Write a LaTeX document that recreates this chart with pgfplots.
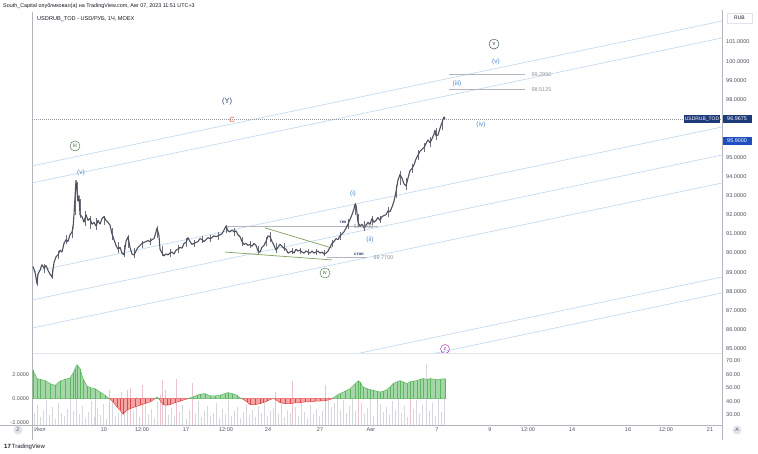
\documentclass[border=0pt]{standalone}
\usepackage{pgfplots}
\pgfplotsset{compat=1.18}
\usepackage{fontspec}
\setmainfont{Liberation Sans}
\definecolor{candle}{HTML}{4E515C}
\definecolor{chan}{HTML}{BCD6EF}
\definecolor{wave}{HTML}{4A86C8}
\definecolor{navy}{HTML}{2B3A75}
\definecolor{cred}{HTML}{E0504F}
\definecolor{cgreen}{HTML}{3E6B3A}
\definecolor{tri}{HTML}{7FA05A}
\definecolor{lvl}{HTML}{B2B5BE}
\definecolor{axtxt}{HTML}{50535E}
\definecolor{hgreen}{HTML}{A5D6A7}
\definecolor{hgreend}{HTML}{5CB860}
\definecolor{hred}{HTML}{F4A6A6}
\definecolor{hredd}{HTML}{E04848}
\definecolor{vgray}{HTML}{D6D8DE}
\definecolor{vpink}{HTML}{EBC3CE}
\definecolor{boxnavy}{HTML}{1E3A78}
\definecolor{boxblue}{HTML}{1F4FBF}
\definecolor{sep}{HTML}{E0E3EB}
\definecolor{purp}{HTML}{9C27B0}
\definecolor{ink}{HTML}{131722}
\definecolor{wick}{HTML}{6E717C}
\begin{document}
\begin{tikzpicture}
\path[use as bounding box] (0pt,0pt) rectangle (758pt,453pt);
% frame lines
\draw[sep, line width=0.8pt] (32pt,100pt) -- (722pt,100pt);
\draw[lvl, line width=0.6pt] (0pt,28pt) -- (722pt,28pt);
\draw[lvl, line width=0.6pt] (32pt,441pt) -- (32pt,13pt);
\draw[lvl, line width=0.9pt] (722pt,443pt) -- (722pt,13pt);
% header
\node[anchor=west, inner sep=0pt, font=\fontsize{5.4}{6}\selectfont, text=ink] at (3pt,447pt) {South\_Capital опубликовал(а) на TradingView.com, Авг 07, 2023 11:51 UTC+3};
\node[anchor=west, inner sep=0pt, font=\fontsize{5.6}{6}\selectfont, text=ink] at (37pt,434pt) {USDRUB\_TOD - USD/РУБ, 1Ч, MOEX};
\node[draw=sep, fill=white, inner sep=1.5pt, minimum width=25pt, minimum height=10pt, font=\fontsize{5}{5}\selectfont, text=ink] at (739.5pt,435pt) {RUB};

% ---------- volume-like bars (lower pane, background) ----------
\begin{axis}[at={(32pt,28pt)}, anchor=south west, width=690pt, height=72pt, scale only axis,
  xmin=32, xmax=722, ymin=0, ymax=72, axis line style={draw=none}, xtick=\empty,
  ytick={10,23.5,37,50.5,64}, yticklabels={30.00,40.00,50.00,60.00,70.00},
  yticklabel pos=right, major tick length=0pt,
  yticklabel style={font=\fontsize{5.6}{6}\selectfont, text=axtxt, anchor=west, inner sep=0pt, xshift=4pt}]
\addplot[ycomb, vgray, line width=0.9pt, mark=none] coordinates {
(34,12)(37,20)(40,8)(43,15)(46,25)(49,10)(52,18)(55,6)(58,22)(61,12)(64,9)(67,16)(70,28)(73,14)(76,30)(79,11)(82,19)(85,7)(88,13)(91,24)(94,8)(97,17)(100,10)(103,21)(106,6)(112,26)(115,9)(118,12)(121,33)(124,18)(133,14)(136,28)(139,8)(145,20)(148,11)(151,16)(154,7)(157,23)(168,10)(171,17)(174,9)(179,13)(182,20)(186,6)(189,15)(195,11)(198,24)(201,8)(204,14)(207,19)(210,9)(213,12)(216,22)(219,7)(222,16)(225,11)(228,25)(231,9)(234,14)(237,18)(240,7)(243,13)(246,21)(249,10)(252,15)(255,8)(258,19)(261,12)(264,24)(267,9)(270,14)(273,17)(278,11)(281,22)(284,8)(287,15)(290,12)(295,18)(298,9)(301,26)(304,13)(307,7)(310,20)(313,11)(316,16)(319,9)(322,14)(328,28)(331,18)(334,22)(337,30)(340,15)(343,25)(346,12)(349,19)(352,27)(355,14)(361,22)(364,11)(367,17)(370,26)(373,9)(380,21)(383,13)(386,18)(389,10)(392,24)(395,15)(398,28)(401,12)(404,19)(407,8)(413,16)(416,25)(419,11)(422,20)(426,61)(429,14)(432,22)(435,9)(438,27)(441,13)(444,35)};
\addplot[ycomb, vpink, line width=0.9pt, mark=none] coordinates {
(95,27)(109,35)(127,35)(130,37)(142,40)(160,30)(162,45)(165,35)(176,46)(192,42)(275,33)(292,44)(325,40)(358,45)(377,27)(410,37)};
\end{axis}

% ---------- histogram (lower pane) ----------
\begin{axis}[at={(32pt,28pt)}, anchor=south west, width=690pt, height=72pt, scale only axis,
  xmin=32, xmax=722, ymin=-2.2, ymax=3.8, axis line style={draw=none}, xtick=\empty,
  ytick={-2,0,2}, yticklabels={-2.0000,0.0000,2.0000}, major tick length=0pt,
  yticklabel style={font=\fontsize{5.4}{6}\selectfont, text=axtxt, anchor=east, inner sep=0pt, xshift=-3pt}]
\addplot[fill=hgreen, draw=hgreend, line width=0.5pt] coordinates {(33,0)(33,2.35)(37,1.67)(40,1.6)(45,1.5)(50,1.25)(55,1.1)(60,1.45)(65,1.6)(70,1.72)(73,2.1)(75,2.5)(77,2.83)(80,2.5)(83,1.67)(87,1.05)(90,0.92)(95,0.83)(100,0.55)(105,0.28)(108,0.05)(110,0)} \closedcycle;
\addplot[fill=hgreen, draw=hgreend, line width=0.5pt] coordinates {(155,0)(157,0.14)(159,0)} \closedcycle;
\addplot[fill=hgreen, draw=hgreend, line width=0.5pt] coordinates {(188,0)(190,0.05)(193,0.14)(197,0.28)(200,0.36)(205,0.42)(210,0.22)(215,0.22)(220,0.28)(225,0.42)(228,0.5)(232,0.42)(237,0.28)(240,0.05)(242,0)} \closedcycle;
\addplot[fill=hgreen, draw=hgreend, line width=0.5pt] coordinates {(332,0)(333,0.05)(337,0.28)(340,0.42)(345,0.6)(350,0.83)(355,1.25)(358,1.45)(360,1.4)(363,0.97)(367,0.83)(370,0.75)(373,0.7)(377,0.6)(380,0.55)(383,0.6)(387,0.75)(390,0.97)(393,1.25)(397,1.4)(400,1.5)(403,1.4)(407,1.25)(410,1.4)(413,1.45)(417,1.5)(420,1.6)(423,1.67)(427,1.6)(430,1.67)(435,1.6)(440,1.6)(445,1.67)(445,0)} \closedcycle;
\addplot[fill=hred, draw=hredd, line width=0.5pt] coordinates {(110,0)(113,-0.28)(117,-0.7)(120,-0.97)(123,-1.3)(127,-0.97)(130,-0.83)(135,-0.7)(140,-0.55)(145,-0.42)(150,-0.28)(155,0)} \closedcycle;
\addplot[fill=hred, draw=hredd, line width=0.5pt] coordinates {(159,0)(160,-0.14)(163,-0.5)(167,-0.55)(170,-0.5)(175,-0.33)(180,-0.22)(185,-0.08)(188,0)} \closedcycle;
\addplot[fill=hred, draw=hredd, line width=0.5pt] coordinates {(242,0)(243,-0.05)(247,-0.28)(250,-0.5)(255,-0.5)(260,-0.42)(263,-0.33)(267,-0.22)(270,-0.08)(273,0)} \closedcycle;
\addplot[fill=hred, draw=hredd, line width=0.5pt] coordinates {(274,0)(277,-0.17)(280,-0.33)(285,-0.42)(290,-0.42)(295,-0.36)(300,-0.33)(305,-0.28)(310,-0.28)(315,-0.22)(320,-0.2)(325,-0.17)(330,-0.08)(332,0)} \closedcycle;
\addplot[ycomb, hgreend, line width=0.5pt, mark=none] coordinates {(33,2.35)(37,1.67)(40,1.6)(45,1.5)(50,1.25)(55,1.1)(60,1.45)(65,1.6)(70,1.72)(73,2.1)(75,2.5)(77,2.83)(80,2.5)(83,1.67)(87,1.05)(90,0.92)(95,0.83)(100,0.55)(105,0.28)(190,0.05)(193,0.14)(197,0.28)(200,0.36)(205,0.42)(210,0.22)(215,0.22)(220,0.28)(225,0.42)(228,0.5)(232,0.42)(237,0.28)(337,0.28)(340,0.42)(345,0.6)(350,0.83)(355,1.25)(358,1.45)(360,1.4)(363,0.97)(367,0.83)(370,0.75)(373,0.7)(377,0.6)(380,0.55)(383,0.6)(387,0.75)(390,0.97)(393,1.25)(397,1.4)(400,1.5)(403,1.4)(407,1.25)(410,1.4)(413,1.45)(417,1.5)(420,1.6)(423,1.67)(427,1.6)(430,1.67)(435,1.6)(440,1.6)(445,1.67)};
\addplot[ycomb, hredd, line width=0.5pt, mark=none] coordinates {(113,-0.28)(117,-0.7)(120,-0.97)(123,-1.3)(127,-0.97)(130,-0.83)(135,-0.7)(140,-0.55)(145,-0.42)(150,-0.28)(163,-0.5)(167,-0.55)(170,-0.5)(175,-0.33)(180,-0.22)(247,-0.28)(250,-0.5)(255,-0.5)(260,-0.42)(263,-0.33)(267,-0.22)(280,-0.33)(285,-0.42)(290,-0.42)(295,-0.36)(300,-0.33)(305,-0.28)(310,-0.28)(315,-0.22)(320,-0.2)(325,-0.17)};
\end{axis}

% ---------- main price pane ----------
\begin{axis}[at={(32pt,100pt)}, anchor=south west, width=690pt, height=343pt, scale only axis,
  xmin=32, xmax=722, ymin=84.79, ymax=102.665, axis line style={draw=none}, xtick=\empty,
  ytick={85,86,87,88,89,90,91,92,93,94,95,98,99,100,101},
  yticklabel pos=right, major tick length=0pt,
  yticklabel={\pgfmathprintnumber[fixed,fixed zerofill,precision=4,assume math mode=true]{\tick}},
  yticklabel style={font=\fontsize{5.6}{6}\selectfont, text=axtxt, anchor=west, inner sep=0pt, xshift=4pt}]
% channel lines
\addplot[chan, line width=0.6pt] coordinates {(32,94.54) (722,102.09)};
\addplot[chan, line width=0.6pt] coordinates {(32,93.65) (722,101.21)};
\addplot[chan, line width=0.6pt] coordinates {(32,89.01) (722,96.57)};
\addplot[chan, line width=0.6pt] coordinates {(32,87.55) (722,95.11)};
\addplot[chan, line width=0.6pt] coordinates {(32,86.09) (722,93.65)};
\addplot[chan, line width=0.6pt] coordinates {(32,81.20) (722,88.75)};
\addplot[chan, line width=0.6pt] coordinates {(32,80.36) (722,87.92)};
% current price line
\addplot[lvl!85!black, line width=0.4pt, dash pattern=on 1pt off 1pt] coordinates {(32,96.9675) (722,96.9675)};
% level lines
\addplot[lvl, line width=0.8pt] coordinates {(226,91.41) (378,91.41)};
\addplot[lvl, line width=0.8pt] coordinates {(327,89.77) (367,89.77)};
\addplot[lvl, line width=0.8pt] coordinates {(449,99.295) (525,99.295)};
\addplot[lvl, line width=0.8pt] coordinates {(449,98.5125) (525,98.5125)};
% triangle
\addplot[tri, line width=0.7pt] coordinates {(265,91.31) (332,90.26)};
\addplot[tri, line width=0.7pt] coordinates {(225,90.05) (332,89.64)};
% candle wicks
\addplot[draw=none, mark=none, error bars/.cd, y dir=both, y explicit, error mark=none, error bar style={wick, line width=0.6pt}] coordinates {
(37,88.6) +- (0,0.3) (44,89.2) +- (0,0.25) (52,88.9) +- (0,0.25) (58,89.9) +- (0,0.2) (66,90.7) +- (0,0.25) (72,91.1) +- (0,0.3) (75,92.6) +- (0,0.6) (77,93.2) +- (0,0.5) (80,92.3) +- (0,0.5) (85,91.8) +- (0,0.4) (90,91.6) +- (0,0.35) (96,91.5) +- (0,0.3) (104,91.7) +- (0,0.25) (112,91.0) +- (0,0.3) (118,90.3) +- (0,0.3) (124,90.1) +- (0,0.3) (128,90.6) +- (0,0.35) (134,90.0) +- (0,0.25) (142,90.45) +- (0,0.2) (150,90.6) +- (0,0.2) (157,91.1) +- (0,0.3) (162,90.1) +- (0,0.25) (170,90.0) +- (0,0.2) (178,90.2) +- (0,0.2) (186,90.55) +- (0,0.25) (194,90.5) +- (0,0.2) (202,90.7) +- (0,0.2) (210,90.75) +- (0,0.2) (218,90.9) +- (0,0.2) (226,91.25) +- (0,0.2) (234,91.1) +- (0,0.2) (242,90.6) +- (0,0.25) (250,90.45) +- (0,0.2) (258,90.15) +- (0,0.2) (266,90.6) +- (0,0.25) (270,90.85) +- (0,0.25) (276,90.25) +- (0,0.25) (284,90.3) +- (0,0.2) (292,90.1) +- (0,0.15) (300,90.1) +- (0,0.15) (308,90.05) +- (0,0.15) (316,90.05) +- (0,0.15) (324,90.0) +- (0,0.15) (332,90.5) +- (0,0.2) (340,90.9) +- (0,0.2) (348,91.5) +- (0,0.25) (355,92.3) +- (0,0.3) (358,91.7) +- (0,0.35) (364,91.4) +- (0,0.25) (372,91.7) +- (0,0.25) (380,91.75) +- (0,0.2) (388,92.15) +- (0,0.25) (396,93.2) +- (0,0.35) (400,93.9) +- (0,0.35) (406,93.6) +- (0,0.3) (412,94.4) +- (0,0.25) (418,95.1) +- (0,0.25) (424,95.5) +- (0,0.25) (430,95.8) +- (0,0.25) (436,96.2) +- (0,0.3) (442,96.7) +- (0,0.3)};
% price
\addplot[candle, line width=1.1pt, line join=bevel, mark=none] coordinates {
(33,89.3)(35,89.0)(37,88.4)(38,88.9)(40,89.1)(42,89.4)(44,89.2)(46,89.35)(48,89.1)(50,88.9)(52,88.75)(54,89.5)(56,89.8)(58,89.9)(60,90.15)(62,90.05)(64,90.5)(66,90.7)(68,90.6)(70,90.95)(72,91.1)(73,91.3)(74,92.0)(75,92.9)(76,93.8)(77,93.2)(78,92.7)(79,93.0)(80,92.0)(82,91.9)(84,91.6)(86,92.0)(88,91.7)(90,91.8)(92,91.5)(94,91.6)(96,91.4)(98,91.7)(100,91.5)(102,91.8)(104,91.9)(106,91.7)(108,91.6)(110,91.45)(112,91.0)(114,90.7)(116,90.4)(118,90.2)(120,90.3)(122,90.0)(124,89.9)(126,90.6)(128,90.85)(130,90.3)(132,89.95)(134,89.9)(136,90.1)(138,90.3)(140,90.4)(142,90.5)(144,90.55)(146,90.6)(148,90.65)(150,90.6)(152,90.7)(154,90.75)(156,91.1)(157,91.3)(159,90.9)(160,90.2)(162,90.0)(164,89.85)(166,89.95)(168,89.9)(170,90.0)(172,90.05)(174,89.95)(176,90.15)(178,90.2)(180,90.3)(182,90.25)(184,90.5)(186,90.55)(188,90.8)(190,90.6)(192,90.45)(194,90.5)(196,90.55)(198,90.6)(200,90.75)(202,90.7)(204,90.6)(206,90.7)(208,90.8)(210,90.75)(212,90.8)(214,90.9)(216,90.85)(218,90.9)(220,90.95)(222,91.0)(224,91.2)(226,91.4)(228,91.15)(230,91.1)(232,91.2)(234,91.1)(236,91.15)(238,90.95)(240,90.85)(242,90.6)(244,90.45)(246,90.5)(248,90.4)(250,90.45)(252,90.35)(254,90.5)(256,90.4)(258,90.1)(260,90.05)(262,90.3)(264,90.4)(266,90.6)(268,90.9)(270,90.85)(272,90.6)(274,90.4)(276,90.15)(278,90.3)(280,90.45)(282,90.35)(284,90.25)(286,90.2)(288,90.0)(290,90.05)(292,90.1)(294,90.0)(296,90.2)(298,90.1)(300,90.15)(302,90.05)(304,90.0)(306,90.1)(308,90.05)(310,90.0)(312,90.1)(314,90.0)(316,90.05)(318,90.1)(320,90.0)(322,90.05)(324,89.95)(326,90.0)(328,90.1)(330,90.3)(332,90.5)(334,90.6)(336,90.75)(338,90.7)(340,90.9)(342,91.0)(344,91.1)(346,91.3)(348,91.5)(350,91.75)(352,92.0)(354,92.3)(355,92.55)(356,92.5)(357,92.1)(358,91.6)(360,91.4)(362,91.5)(364,91.3)(366,91.45)(368,91.6)(370,91.5)(372,91.8)(374,91.6)(376,91.7)(378,91.85)(380,91.7)(382,91.9)(384,91.95)(386,92.0)(388,92.2)(390,92.15)(392,92.4)(394,92.7)(396,93.2)(398,93.8)(400,94.1)(402,93.9)(404,93.6)(406,93.5)(408,93.9)(410,94.3)(412,94.4)(414,94.6)(416,94.9)(418,95.1)(420,95.3)(422,95.4)(424,95.5)(426,95.7)(428,95.9)(430,95.75)(432,95.95)(434,96.2)(435,96.4)(436,96.1)(438,96.15)(440,96.5)(442,96.8)(444,97.1)(445,96.97)};
% wave labels
\node[text=wave, font=\fontsize{6.5}{7}\selectfont] at (axis cs:81,94.17) {(v)};
\node[circle, draw=cgreen, inner sep=0.5pt, minimum size=10pt, text=cgreen, font=\fontsize{5.5}{6}\selectfont] at (axis cs:75,95.58) {iii};
\node[text=navy, font=\fontsize{7.5}{8}\selectfont] at (axis cs:227,97.87) {(Y)};
\node[text=cred, font=\fontsize{7.5}{8}\selectfont] at (axis cs:232,96.93) {C};
\node[text=wave, font=\fontsize{6.5}{7}\selectfont] at (axis cs:353,93.08) {(i)};
\node[text=wave, font=\fontsize{6.5}{7}\selectfont] at (axis cs:370,90.68) {(ii)};
\node[circle, draw=cgreen, inner sep=0.5pt, minimum size=10pt, text=cgreen, font=\fontsize{5.5}{6}\selectfont] at (axis cs:325,88.96) {iv};
\node[text=wave, font=\fontsize{6.5}{7}\selectfont] at (axis cs:457,98.81) {(iii)};
\node[text=wave, font=\fontsize{6.5}{7}\selectfont] at (axis cs:481,96.67) {(iv)};
\node[text=wave, font=\fontsize{6.5}{7}\selectfont] at (axis cs:496,99.96) {(v)};
\node[circle, draw=cgreen!60!black, inner sep=0.5pt, minimum size=10pt, text=cgreen!60!black, font=\fontsize{5.5}{6}\selectfont] at (axis cs:494,100.89) {v};
\node[circle, draw=purp, inner sep=0.5pt, minimum size=9pt, text=purp, font=\fontsize{5.5}{6}\selectfont] at (axis cs:445,85.0) {z};
\node[text=navy, font=\fontsize{4.3}{5}\selectfont\bfseries] at (axis cs:343,91.62) {тек};
\node[text=navy, font=\fontsize{4.3}{5}\selectfont\bfseries] at (axis cs:359,89.95) {стоп};
\node[text=lvl!80!black, font=\fontsize{5.5}{6}\selectfont, anchor=west] at (axis cs:370,89.75) {89.7700};
\node[text=lvl!80!black, font=\fontsize{5.5}{6}\selectfont, anchor=west] at (axis cs:350,91.38) {91.4100};
\node[text=lvl!80!black, font=\fontsize{5.5}{6}\selectfont, anchor=west] at (axis cs:528,99.30) {99.2950};
\node[text=lvl!80!black, font=\fontsize{5.5}{6}\selectfont, anchor=west] at (axis cs:528,98.52) {98.5125};
\end{axis}

% price boxes
\node[fill=boxnavy, text=white, inner sep=1pt, minimum height=8pt, font=\fontsize{5}{5}\selectfont] at (702pt,334pt) {USDRUB\_TOD};
\node[fill=boxnavy, text=white, inner sep=1pt, minimum height=8pt, minimum width=29pt, font=\fontsize{5.4}{5}\selectfont] at (737pt,334pt) {96.9675};
\node[fill=boxblue, text=white, inner sep=1pt, minimum height=8pt, minimum width=29pt, font=\fontsize{5.4}{5}\selectfont] at (737pt,312pt) {95.9000};

% time axis labels
\foreach \xx/\lab in {40/Июл,104/10,142/12:00,186/17,226/12:00,268/24,320/27,371/Авг,437/7,490/9,528/12:00,572/14,628/16,666/12:00,710/21}{
  \node[text=axtxt, font=\fontsize{5.5}{6}\selectfont] at (\xx pt,23pt) {\lab};
}
\node[circle, fill=sep, inner sep=0pt, minimum size=9pt, text=axtxt, font=\fontsize{5}{5}\selectfont] at (18pt,23pt) {Z};
\node[circle, fill=sep, inner sep=0pt, minimum size=9pt, text=axtxt, font=\fontsize{5}{5}\selectfont] at (737pt,23pt) {A};
\node[anchor=west, inner sep=0pt, text=ink, font=\fontsize{6}{6}\selectfont] at (4pt,6pt) {\textbf{17}\,TradingView};
\end{tikzpicture}
\end{document}
